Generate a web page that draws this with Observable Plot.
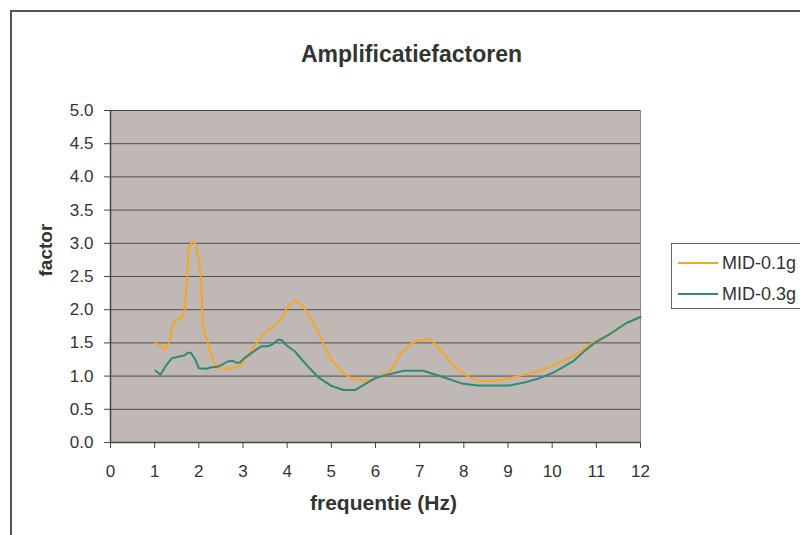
<!DOCTYPE html>
<html>
<head>
<meta charset="utf-8">
<script src="https://cdn.jsdelivr.net/npm/d3@7"></script>
<script src="https://cdn.jsdelivr.net/npm/@observablehq/plot@0.6"></script>
<style>
  html, body { margin: 0; padding: 0; background: #fff; }
  #wrap { position: relative; width: 800px; height: 535px; overflow: hidden; font-family: "Liberation Sans", Arial, sans-serif; }
  #border { position: absolute; left: 10px; top: 10px; width: 830px; height: 560px; border: 2px solid #555; box-sizing: border-box; }
  #chart { position: absolute; left: 0; top: 0; }
  #legend { position: absolute; left: 671px; top: 243px; width: 160px; height: 66px; border: 1.5px solid #666; box-sizing: border-box; background: #fff; }
  .item { position: absolute; left: 6px; height: 20px; display: flex; align-items: center; font-size: 18px; color: #333; }
  .sw { width: 40px; height: 0; border-top: 2px solid; margin-right: 4px; }
</style>
</head>
<body>
<div id="wrap">
  <div id="border"></div>
  <div id="chart"></div>
  <div id="legend"></div>
</div>
<script>
// ---- data ----
const seriesNames = ["MID-0.1g", "MID-0.3g"];
const seriesColors = ["#f5a623", "#2e8a78"];

const freq01 = [1.02,1.13,1.22,1.28,1.36,1.39,1.47,1.57,1.66,1.72,1.77,1.85,1.92,2.00,2.05,2.09,2.18,2.27,2.35,2.45,2.60,2.79,2.94,3.01,3.20,3.43,3.58,3.78,3.88,3.99,4.17,4.35,4.52,4.75,4.96,5.20,5.42,5.72,5.91,6.10,6.33,6.59,6.85,7.12,7.27,7.53,7.80,8.14,8.36,8.66,9.04,9.42,9.72,10.17,10.51,10.77,11.04,11.37,11.68,12.00];
const mid01  = [1.50,1.46,1.40,1.44,1.58,1.74,1.84,1.86,1.92,2.34,2.94,3.03,2.99,2.74,2.44,1.74,1.56,1.34,1.19,1.13,1.11,1.13,1.16,1.23,1.40,1.61,1.70,1.79,1.86,2.03,2.14,2.06,1.89,1.59,1.28,1.09,0.98,0.93,0.94,1.00,1.07,1.36,1.51,1.56,1.54,1.34,1.14,0.97,0.93,0.92,0.97,1.03,1.08,1.21,1.31,1.44,1.55,1.66,1.80,1.89];

const freq03 = [1.02,1.13,1.27,1.39,1.58,1.67,1.75,1.82,1.92,2.00,2.18,2.26,2.41,2.52,2.65,2.77,2.86,2.94,3.01,3.20,3.28,3.43,3.58,3.69,3.80,3.88,3.99,4.18,4.33,4.52,4.71,5.01,5.27,5.54,5.76,6.03,6.33,6.63,7.08,7.42,7.95,8.32,9.04,9.42,9.72,10.02,10.47,10.70,10.96,11.30,11.68,12.00];
const mid03  = [1.08,1.02,1.17,1.27,1.30,1.31,1.35,1.35,1.25,1.12,1.11,1.13,1.14,1.17,1.22,1.23,1.20,1.21,1.26,1.35,1.39,1.45,1.45,1.49,1.55,1.54,1.46,1.37,1.25,1.11,0.98,0.85,0.79,0.79,0.88,0.98,1.03,1.08,1.08,1.01,0.89,0.86,0.86,0.91,0.97,1.05,1.22,1.36,1.50,1.63,1.80,1.89];

const xTicks = [0,1,2,3,4,5,6,7,8,9,10,11,12];
const yTicks = [0,0.5,1,1.5,2,2.5,3,3.5,4,4.5,5];
const titleText = "Amplificatiefactoren";
const xLabel = "frequentie (Hz)";
const yLabel = "factor";

// ---- build table ----
const rows = [
  ...freq01.map((f, i) => ({freq: f, value: mid01[i], series: seriesNames[0]})),
  ...freq03.map((f, i) => ({freq: f, value: mid03[i], series: seriesNames[1]}))
];

const chart = Plot.plot({
  width: 800,
  height: 535,
  marginLeft: 110,
  marginRight: 160,
  marginTop: 110,
  marginBottom: 93,
  style: { fontFamily: "'Liberation Sans', Arial, sans-serif", fontSize: "17px", color: "#333", background: "transparent" },
  x: { domain: [0, 12], ticks: xTicks, label: null },
  y: { domain: [0, 5], ticks: yTicks, label: null },
  color: { domain: seriesNames, range: seriesColors },
  marks: [
    Plot.frame({ fill: "#c0b8b5", stroke: "#8f8a88" }),
    Plot.gridY(yTicks, { stroke: "#3a3a3a", strokeOpacity: 0.85 }),
    Plot.ruleX([0], { stroke: "#444", strokeWidth: 1.5 }),
    Plot.ruleY([0], { stroke: "#444", strokeWidth: 1.5 }),
    Plot.axisX(xTicks, { tickSize: 6, tickPadding: 16, stroke: "#444", fill: "#333", fontSize: 17, label: null }),
    Plot.axisY(yTicks, { tickSize: 6, tickPadding: 11, stroke: "#444", fill: "#333", fontSize: 17, tickFormat: d3.format(".1f"), label: null }),
    Plot.line(rows, { x: "freq", y: "value", z: "series", stroke: "series", strokeWidth: 2 }),
    Plot.text([xLabel], { frameAnchor: "bottom", dy: 67, dx: 8, fontWeight: "bold", fontSize: 21, fill: "#333" }),
    Plot.text([yLabel], { frameAnchor: "left", dx: -65, rotate: -90, fontWeight: "bold", fontSize: 19, fill: "#333" }),
    Plot.text([titleText], { frameAnchor: "top", dy: -65, dx: 36, fontWeight: "bold", fontSize: 23, fill: "#333" })
  ]
});
document.getElementById("chart").appendChild(chart);

// legend
const legend = document.getElementById("legend");
seriesNames.forEach((name, i) => {
  const item = document.createElement("div");
  item.className = "item";
  item.style.top = (9 + i * 31) + "px";
  const sw = document.createElement("span");
  sw.className = "sw";
  sw.style.borderTopColor = seriesColors[i];
  const label = document.createElement("span");
  label.textContent = name;
  item.appendChild(sw);
  item.appendChild(label);
  legend.appendChild(item);
});
</script>
</body>
</html>
